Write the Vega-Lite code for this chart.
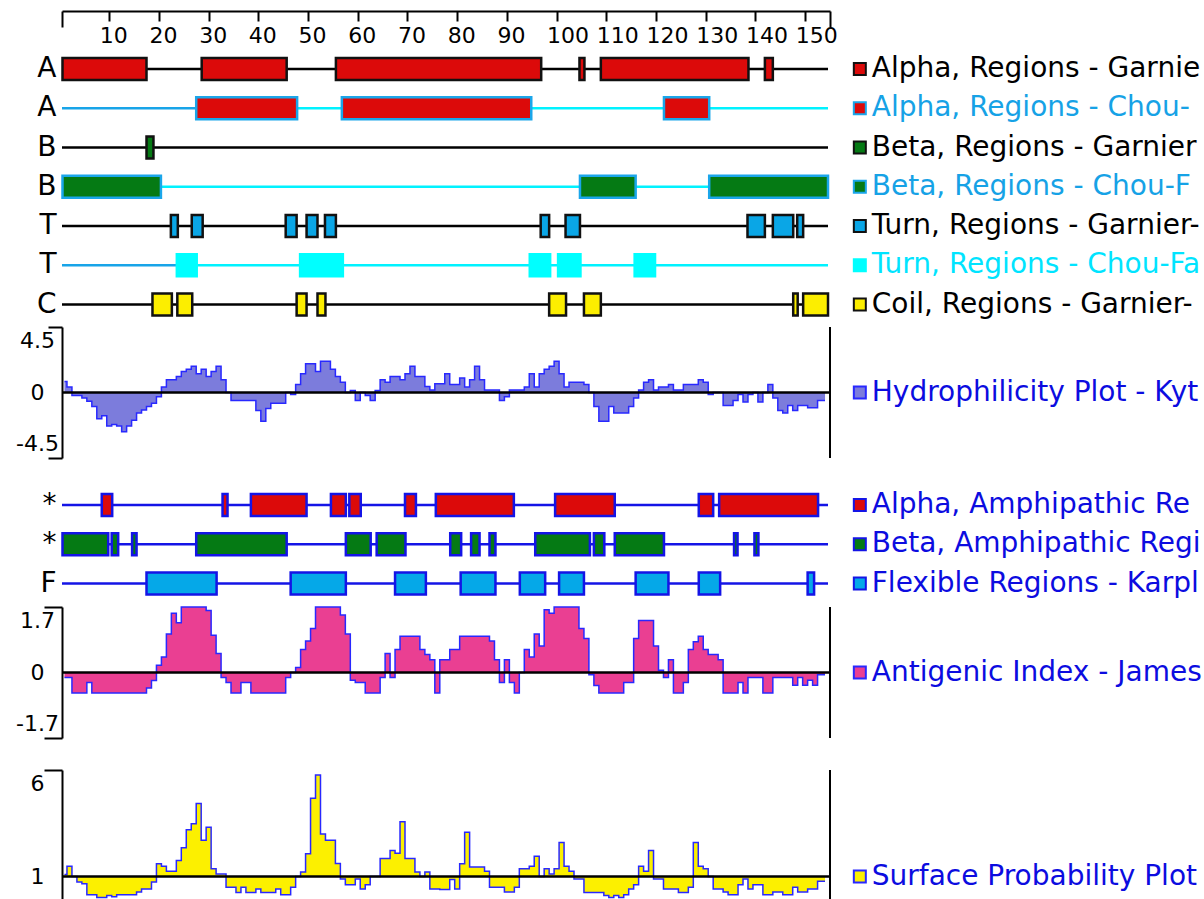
{
"$schema": "https://vega.github.io/schema/vega-lite/v6.json",
"padding": {"left": 15, "top": 0, "right": 0, "bottom": 0},
"autosize": {"type": "pad"},
"background": "white",
"spacing": 0,
"bounds": "flush",
"resolve": {"scale": {"fill": "independent", "stroke": "independent", "color": "independent"}},
"config": {
  "view": {"stroke": null},
  "axis": {"labelFont": "DejaVu Sans", "labelColor": "black", "domainColor": "black", "tickColor": "black", "domainWidth": 2, "tickWidth": 2, "grid": false, "title": null},
  "text": {"font": "DejaVu Sans"}
},
"datasets": {
  "tracks": [
    {"track": "A1", "label": "Alpha, Regions - Garnier-Robson"},
    {"track": "A2", "label": "Alpha, Regions - Chou-Fasman"},
    {"track": "B1", "label": "Beta, Regions - Garnier-Robson"},
    {"track": "B2", "label": "Beta, Regions - Chou-Fasman"},
    {"track": "T1", "label": "Turn, Regions - Garnier-Robson"},
    {"track": "T2", "label": "Turn, Regions - Chou-Fasman"},
    {"track": "C1", "label": "Coil, Regions - Garnier-Robson"}
  ],
  "trackLines": [
    {"track": "A1", "from": 0.5, "to": 154.6, "kind": "gr"},
    {"track": "A2", "from": 0.5, "to": 27.5, "kind": "pre"},
    {"track": "A2", "from": 27.5, "to": 154.6, "kind": "cf"},
    {"track": "B1", "from": 0.5, "to": 154.6, "kind": "gr"},
    {"track": "B2", "from": 0.5, "to": 154.6, "kind": "cf"},
    {"track": "T1", "from": 0.5, "to": 154.6, "kind": "gr"},
    {"track": "T2", "from": 0.5, "to": 23.6, "kind": "pre"},
    {"track": "T2", "from": 23.6, "to": 154.6, "kind": "cf"},
    {"track": "C1", "from": 0.5, "to": 154.6, "kind": "gr"}
  ],
  "trackRegions": [
    {"track": "A1", "start": 0.6, "end": 17.5}, {"track": "A1", "start": 28.6, "end": 45.7}, {"track": "A1", "start": 55.6, "end": 96.9}, {"track": "A1", "start": 104.6, "end": 105.6}, {"track": "A1", "start": 108.9, "end": 138.6}, {"track": "A1", "start": 141.9, "end": 143.5},
    {"track": "A2", "start": 27.5, "end": 47.8}, {"track": "A2", "start": 56.8, "end": 94.9}, {"track": "A2", "start": 121.6, "end": 130.7},
    {"track": "B1", "start": 17.5, "end": 18.9},
    {"track": "B2", "start": 0.6, "end": 20.4}, {"track": "B2", "start": 104.7, "end": 115.9}, {"track": "B2", "start": 130.7, "end": 154.6},
    {"track": "T1", "start": 22.4, "end": 23.8}, {"track": "T1", "start": 26.6, "end": 28.8}, {"track": "T1", "start": 45.5, "end": 47.7}, {"track": "T1", "start": 49.7, "end": 51.9}, {"track": "T1", "start": 53.4, "end": 55.6}, {"track": "T1", "start": 96.8, "end": 98.5}, {"track": "T1", "start": 101.8, "end": 104.7}, {"track": "T1", "start": 138.4, "end": 141.9}, {"track": "T1", "start": 143.5, "end": 147.6}, {"track": "T1", "start": 148.4, "end": 149.6},
    {"track": "T2", "start": 23.6, "end": 27.6}, {"track": "T2", "start": 48.4, "end": 57.0}, {"track": "T2", "start": 94.6, "end": 98.7}, {"track": "T2", "start": 100.3, "end": 104.8}, {"track": "T2", "start": 115.7, "end": 119.8},
    {"track": "C1", "start": 18.7, "end": 22.6}, {"track": "C1", "start": 23.7, "end": 26.7}, {"track": "C1", "start": 47.7, "end": 49.7}, {"track": "C1", "start": 51.9, "end": 53.5}, {"track": "C1", "start": 98.5, "end": 101.9}, {"track": "C1", "start": 105.5, "end": 108.9}, {"track": "C1", "start": 147.6, "end": 148.5}, {"track": "C1", "start": 149.6, "end": 154.6}
  ],
  "amph": [
    {"track": "M1", "label": "Alpha, Amphipathic Regions - Eisenberg"},
    {"track": "M2", "label": "Beta, Amphipathic Regions - Eisenberg"},
    {"track": "F1", "label": "Flexible Regions - Karplus-Schulz"}
  ],
  "amphLines": [
    {"track": "M1", "from": 0.5, "to": 154.6},
    {"track": "M2", "from": 0.5, "to": 154.6},
    {"track": "F1", "from": 0.5, "to": 154.6}
  ],
  "amphRegions": [
    {"track": "M1", "start": 8.5, "end": 10.6}, {"track": "M1", "start": 32.8, "end": 33.8}, {"track": "M1", "start": 38.5, "end": 49.7}, {"track": "M1", "start": 54.6, "end": 57.6}, {"track": "M1", "start": 58.3, "end": 60.6}, {"track": "M1", "start": 69.5, "end": 71.7}, {"track": "M1", "start": 75.7, "end": 91.4}, {"track": "M1", "start": 99.7, "end": 111.7}, {"track": "M1", "start": 128.6, "end": 131.5}, {"track": "M1", "start": 132.7, "end": 152.6},
    {"track": "M2", "start": 0.6, "end": 9.8}, {"track": "M2", "start": 10.5, "end": 11.8}, {"track": "M2", "start": 14.6, "end": 15.5}, {"track": "M2", "start": 27.5, "end": 45.7}, {"track": "M2", "start": 57.6, "end": 62.6}, {"track": "M2", "start": 63.8, "end": 69.6}, {"track": "M2", "start": 78.6, "end": 80.8}, {"track": "M2", "start": 82.8, "end": 84.5}, {"track": "M2", "start": 86.5, "end": 87.7}, {"track": "M2", "start": 95.7, "end": 106.7}, {"track": "M2", "start": 107.5, "end": 109.6}, {"track": "M2", "start": 111.7, "end": 121.6}, {"track": "M2", "start": 135.7, "end": 136.4}, {"track": "M2", "start": 139.8, "end": 140.6},
    {"track": "F1", "start": 17.5, "end": 31.6}, {"track": "F1", "start": 46.5, "end": 57.6}, {"track": "F1", "start": 67.5, "end": 73.7}, {"track": "F1", "start": 80.7, "end": 87.7}, {"track": "F1", "start": 92.6, "end": 97.7}, {"track": "F1", "start": 100.5, "end": 105.5}, {"track": "F1", "start": 115.9, "end": 122.5}, {"track": "F1", "start": 128.6, "end": 132.9}, {"track": "F1", "start": 150.5, "end": 151.8}
  ],
  "profile": [
    {"res":1,"hydro":0.75,"ai":-0.13,"sp":1.1},{"res":2,"hydro":0.37,"ai":-0.13,"sp":1.49},{"res":3,"hydro":-0.2,"ai":-0.53,"sp":1.0},{"res":4,"hydro":-0.2,"ai":-0.53,"sp":0.75},{"res":5,"hydro":-0.37,"ai":-0.53,"sp":0.66},{"res":6,"hydro":-0.6,"ai":-0.26,"sp":0.15},{"res":7,"hydro":-0.96,"ai":-0.53,"sp":0.15},{"res":8,"hydro":-1.8,"ai":-0.53,"sp":0.02},{"res":9,"hydro":-1.6,"ai":-0.53,"sp":0.02},{"res":10,"hydro":-2.3,"ai":-0.53,"sp":0.12},
    {"res":11,"hydro":-2.2,"ai":-0.53,"sp":0.05},{"res":12,"hydro":-2.3,"ai":-0.53,"sp":0.15},{"res":13,"hydro":-2.7,"ai":-0.53,"sp":0.15},{"res":14,"hydro":-2.3,"ai":-0.53,"sp":0.15},{"res":15,"hydro":-1.9,"ai":-0.53,"sp":0.15},{"res":16,"hydro":-1.4,"ai":-0.53,"sp":0.28},{"res":17,"hydro":-1.2,"ai":-0.53,"sp":0.42},{"res":18,"hydro":-0.96,"ai":-0.4,"sp":0.42},{"res":19,"hydro":-0.73,"ai":-0.21,"sp":0.75},{"res":20,"hydro":-0.3,"ai":0.19,"sp":1.6},
    {"res":21,"hydro":0.37,"ai":0.4,"sp":1.49},{"res":22,"hydro":0.87,"ai":1.0,"sp":1.25},{"res":23,"hydro":0.87,"ai":1.54,"sp":1.25},{"res":24,"hydro":1.1,"ai":1.29,"sp":1.75},{"res":25,"hydro":1.44,"ai":1.7,"sp":2.35},{"res":26,"hydro":1.6,"ai":1.7,"sp":3.2},{"res":27,"hydro":1.8,"ai":1.7,"sp":3.48},{"res":28,"hydro":1.28,"ai":1.7,"sp":4.43},{"res":29,"hydro":1.6,"ai":1.7,"sp":2.7},{"res":30,"hydro":1.1,"ai":1.61,"sp":3.32},
    {"res":31,"hydro":1.44,"ai":0.97,"sp":1.37},{"res":32,"hydro":1.8,"ai":0.49,"sp":1.12},{"res":33,"hydro":0.87,"ai":-0.13,"sp":1.12},{"res":34,"hydro":0,"ai":-0.26,"sp":0.5},{"res":35,"hydro":-0.55,"ai":-0.53,"sp":0.5},{"res":36,"hydro":-0.55,"ai":-0.53,"sp":0.26},{"res":37,"hydro":-0.55,"ai":-0.26,"sp":0.5},{"res":38,"hydro":-0.55,"ai":-0.26,"sp":0.26},{"res":39,"hydro":-0.55,"ai":-0.53,"sp":0.26},{"res":40,"hydro":-1.24,"ai":-0.53,"sp":0.42},
    {"res":41,"hydro":-1.97,"ai":-0.53,"sp":0.26},{"res":42,"hydro":-1.1,"ai":-0.53,"sp":0.26},{"res":43,"hydro":-0.73,"ai":-0.53,"sp":0.26},{"res":44,"hydro":-0.73,"ai":-0.53,"sp":0.42},{"res":45,"hydro":-0.73,"ai":-0.53,"sp":0.15},{"res":46,"hydro":0,"ai":-0.13,"sp":0.15},{"res":47,"hydro":-0.14,"ai":0,"sp":0.5},{"res":48,"hydro":0.55,"ai":0.13,"sp":1.0},{"res":49,"hydro":1.28,"ai":0.6,"sp":1.22},{"res":50,"hydro":1.97,"ai":0.82,"sp":2.07},
    {"res":51,"hydro":1.97,"ai":1.14,"sp":4.67},{"res":52,"hydro":1.44,"ai":1.7,"sp":5.77},{"res":53,"hydro":2.15,"ai":1.7,"sp":3.0},{"res":54,"hydro":2.15,"ai":1.7,"sp":2.7},{"res":55,"hydro":1.6,"ai":1.7,"sp":2.7},{"res":56,"hydro":1.1,"ai":1.7,"sp":1.61},{"res":57,"hydro":0.7,"ai":1.49,"sp":0.89},{"res":58,"hydro":0,"ai":1.0,"sp":0.62},{"res":59,"hydro":0.14,"ai":-0.2,"sp":0.62},{"res":60,"hydro":-0.55,"ai":-0.26,"sp":0.89},
    {"res":61,"hydro":0,"ai":-0.26,"sp":0.42},{"res":62,"hydro":-0.2,"ai":-0.53,"sp":0.62},{"res":63,"hydro":-0.55,"ai":-0.53,"sp":1.0},{"res":64,"hydro":0.14,"ai":-0.53,"sp":1.0},{"res":65,"hydro":0.87,"ai":-0.13,"sp":1.85},{"res":66,"hydro":0.7,"ai":0.49,"sp":1.85},{"res":67,"hydro":1.1,"ai":-0.13,"sp":2.22},{"res":68,"hydro":1.1,"ai":0.6,"sp":2.1},{"res":69,"hydro":0.87,"ai":0.94,"sp":3.57},{"res":70,"hydro":1.28,"ai":0.94,"sp":1.85},
    {"res":71,"hydro":1.8,"ai":0.94,"sp":1.85},{"res":72,"hydro":1.1,"ai":0.94,"sp":1.22},{"res":73,"hydro":1.1,"ai":0.6,"sp":1.0},{"res":74,"hydro":0.41,"ai":0.47,"sp":1.22},{"res":75,"hydro":0.18,"ai":0.33,"sp":0.42},{"res":76,"hydro":0.6,"ai":-0.53,"sp":0.42},{"res":77,"hydro":0.6,"ai":0.33,"sp":0.4},{"res":78,"hydro":1.28,"ai":0.33,"sp":0.4},{"res":79,"hydro":0.55,"ai":0.6,"sp":0.86},{"res":80,"hydro":0.55,"ai":0.6,"sp":0.42},
    {"res":81,"hydro":1.0,"ai":0.94,"sp":1.6},{"res":82,"hydro":0.37,"ai":0.94,"sp":3.08},{"res":83,"hydro":0.87,"ai":0.94,"sp":1.45},{"res":84,"hydro":1.8,"ai":0.94,"sp":1.45},{"res":85,"hydro":0.87,"ai":0.94,"sp":1.45},{"res":86,"hydro":0.18,"ai":0.94,"sp":1.25},{"res":87,"hydro":0.18,"ai":0.82,"sp":0.5},{"res":88,"hydro":0.18,"ai":0.33,"sp":0.5},{"res":89,"hydro":-0.55,"ai":-0.26,"sp":0.5},{"res":90,"hydro":-0.3,"ai":0.33,"sp":0.28},
    {"res":91,"hydro":0.18,"ai":-0.26,"sp":0.28},{"res":92,"hydro":0.18,"ai":-0.53,"sp":0.5},{"res":93,"hydro":0.18,"ai":0,"sp":1.37},{"res":94,"hydro":0.37,"ai":0.6,"sp":1.37},{"res":95,"hydro":1.28,"ai":0.4,"sp":1.49},{"res":96,"hydro":0.37,"ai":1.0,"sp":1.96},{"res":97,"hydro":1.28,"ai":0.69,"sp":1.0},{"res":98,"hydro":1.6,"ai":1.63,"sp":1.37},{"res":99,"hydro":1.8,"ai":1.54,"sp":1.12},{"res":100,"hydro":2.15,"ai":1.7,"sp":1.37},
    {"res":101,"hydro":1.28,"ai":1.7,"sp":2.6},{"res":102,"hydro":0.37,"ai":1.7,"sp":1.49},{"res":103,"hydro":0.7,"ai":1.7,"sp":1.25},{"res":104,"hydro":0.7,"ai":1.7,"sp":0.89},{"res":105,"hydro":0.7,"ai":1.14,"sp":0.89},{"res":106,"hydro":0.55,"ai":0.88,"sp":0.26},{"res":107,"hydro":0,"ai":-0.06,"sp":0.26},{"res":108,"hydro":-0.96,"ai":-0.34,"sp":0.26},{"res":109,"hydro":-1.97,"ai":-0.53,"sp":0.26},{"res":110,"hydro":-1.97,"ai":-0.53,"sp":0.12},
    {"res":111,"hydro":-0.96,"ai":-0.53,"sp":0.02},{"res":112,"hydro":-1.4,"ai":-0.53,"sp":0.12},{"res":113,"hydro":-1.4,"ai":-0.53,"sp":0.02},{"res":114,"hydro":-1.4,"ai":-0.26,"sp":0.15},{"res":115,"hydro":-0.96,"ai":-0.26,"sp":0.42},{"res":116,"hydro":-0.37,"ai":0.88,"sp":0.62},{"res":117,"hydro":0.18,"ai":1.35,"sp":1.49},{"res":118,"hydro":0.7,"ai":1.35,"sp":1.25},{"res":119,"hydro":0.87,"ai":1.35,"sp":2.22},{"res":120,"hydro":0.18,"ai":0.69,"sp":0.89},
    {"res":121,"hydro":0.37,"ai":0.06,"sp":0.89},{"res":122,"hydro":0.37,"ai":-0.13,"sp":0.42},{"res":123,"hydro":0.55,"ai":0.33,"sp":0.42},{"res":124,"hydro":0.18,"ai":-0.53,"sp":0.42},{"res":125,"hydro":0.18,"ai":-0.53,"sp":0.26},{"res":126,"hydro":0.55,"ai":-0.26,"sp":0.26},{"res":127,"hydro":0.55,"ai":0.6,"sp":0.5},{"res":128,"hydro":0.55,"ai":0.8,"sp":2.6},{"res":129,"hydro":0.87,"ai":0.94,"sp":1.49},{"res":130,"hydro":0.7,"ai":0.6,"sp":1.37},
    {"res":131,"hydro":-0.14,"ai":0.47,"sp":1.0},{"res":132,"hydro":0,"ai":0.47,"sp":0.42},{"res":133,"hydro":0,"ai":0.33,"sp":0.42},{"res":134,"hydro":-0.9,"ai":-0.53,"sp":0.28},{"res":135,"hydro":-0.9,"ai":-0.53,"sp":0.15},{"res":136,"hydro":-0.55,"ai":-0.53,"sp":0.15},{"res":137,"hydro":-0.14,"ai":-0.26,"sp":0.62},{"res":138,"hydro":-0.65,"ai":-0.53,"sp":0.89},{"res":139,"hydro":-0.14,"ai":-0.13,"sp":0.42},{"res":140,"hydro":0,"ai":-0.13,"sp":0.62},
    {"res":141,"hydro":-0.65,"ai":-0.13,"sp":0.62},{"res":142,"hydro":0,"ai":-0.53,"sp":0.15},{"res":143,"hydro":0.55,"ai":-0.53,"sp":0.15},{"res":144,"hydro":-0.37,"ai":-0.13,"sp":0.28},{"res":145,"hydro":-1.24,"ai":-0.13,"sp":0.28},{"res":146,"hydro":-1.4,"ai":-0.13,"sp":0.15},{"res":147,"hydro":-0.9,"ai":-0.13,"sp":0.15},{"res":148,"hydro":-1.24,"ai":-0.33,"sp":0.5},{"res":149,"hydro":-0.9,"ai":-0.13,"sp":0.28},{"res":150,"hydro":-0.9,"ai":-0.33,"sp":0.28},
    {"res":151,"hydro":-1.05,"ai":-0.2,"sp":0.42},{"res":152,"hydro":-1.05,"ai":-0.33,"sp":0.42},{"res":153,"hydro":-0.55,"ai":-0.06,"sp":0.78},{"res":154,"hydro":-0.55,"ai":-0.06,"sp":0.78}
  ]
},
"vconcat": [
  {
    "width": 768, "height": 10,
    "data": {"values": [{}]},
    "mark": {"type": "text"},
    "encoding": {
      "x": {"datum": 1, "type": "quantitative", "scale": {"domain": [0.5, 155], "nice": false, "zero": false},
        "axis": {"orient": "bottom", "values": [0.5, 10, 20, 30, 40, 50, 60, 70, 80, 90, 100, 110, 120, 130, 140, 150, 155],
          "tickSize": {"condition": {"test": "datum.value < 1 || datum.value > 154", "value": 16}, "value": 10},
          "labelExpr": "datum.value < 1 || datum.value > 154 ? '' : '' + datum.value",
          "labelFontSize": 22, "labelAlign": "left", "labelOffset": -10, "labelPadding": 4, "labelOverlap": false, "labelFlush": false}},
      "text": {"value": ""}
    }
  },
  {
    "width": 768, "height": 316,
    "resolve": {"scale": {"color": "independent"}},
    "layer": [
      {
        "data": {"name": "trackLines"},
        "mark": {"type": "rule", "strokeWidth": 2.5},
        "encoding": {
          "y": {"field": "track", "type": "nominal", "scale": {"domain": ["A1","A2","B1","B2","T1","T2","C1"], "paddingInner": 0, "paddingOuter": 0.5255, "align": 0.933},
            "axis": {"orient": "left", "labelExpr": "substring(datum.value, 0, 1)", "domain": false, "ticks": false, "labelPadding": 6, "labelFontSize": 28, "title": null}},
          "x": {"field": "from", "type": "quantitative", "scale": {"domain": [0.5, 155], "nice": false, "zero": false}, "axis": null},
          "x2": {"field": "to"},
          "color": {"field": "kind", "type": "nominal", "scale": {"domain": ["gr","pre","cf"], "range": ["#000000","#18a4e8","#00f2ff"]}, "legend": null}
        }
      },
      {
        "data": {"name": "trackRegions"},
        "mark": {"type": "bar", "size": 22, "strokeWidth": 2.5, "opacity": 1},
        "encoding": {
          "y": {"field": "track", "type": "nominal"},
          "x": {"field": "start", "type": "quantitative", "axis": null},
          "x2": {"field": "end"},
          "fill": {"field": "track", "type": "nominal", "scale": {"domain": ["A1","A2","B1","B2","T1","T2","C1"], "range": ["#dc0a0a","#dc0a0a","#057a14","#057a14","#0aa6e6","#00ffff","#fcee00"]}, "legend": null},
          "stroke": {"field": "track", "type": "nominal", "scale": {"domain": ["A1","A2","B1","B2","T1","T2","C1"], "range": ["#111111","#1aa6ea","#111111","#1aa6ea","#111111","#00ffff","#111111"]}, "legend": null}
        }
      },
      {
        "data": {"name": "tracks"},
        "mark": {"type": "square", "size": 144, "strokeWidth": 2, "opacity": 1},
        "encoding": {
          "y": {"field": "track", "type": "nominal"},
          "x": {"datum": 161, "type": "quantitative", "axis": null},
          "fill": {"field": "track", "type": "nominal", "legend": null},
          "stroke": {"field": "track", "type": "nominal", "legend": null}
        }
      },
      {
        "data": {"name": "tracks"},
        "mark": {"type": "text", "align": "left", "baseline": "middle", "fontSize": 28, "limit": 332, "ellipsis": "\u200b"},
        "encoding": {
          "y": {"field": "track", "type": "nominal"},
          "x": {"datum": 163.4, "type": "quantitative", "axis": null},
          "text": {"field": "label"},
          "color": {"field": "track", "type": "nominal", "scale": {"domain": ["A1","A2","B1","B2","T1","T2","C1"], "range": ["#000000","#16a2e6","#000000","#16a2e6","#000000","#00e4ff","#000000"]}, "legend": null}
        }
      }
    ]
  },
  {
    "width": 768, "height": 131,
    "layer": [
      {
        "data": {"name": "profile"},
        "mark": {"type": "area", "interpolate": "step", "color": "#7c7cdc", "opacity": 1, "fillOpacity": 1, "line": {"color": "#2828ff", "strokeWidth": 1.5}},
        "encoding": {
          "x": {"field": "res", "type": "quantitative", "scale": {"domain": [0.5, 155], "nice": false, "zero": false}, "axis": null},
          "y": {"field": "hydro", "type": "quantitative", "scale": {"domain": [-4.5, 4.5], "nice": false, "zero": false},
            "axis": {"values": [-4.5, 0, 4.5], "labelExpr": "'' + datum.value", "labelFlush": true, "labelFlushOffset": -3, "tickSize": 14,
              "tickOpacity": {"condition": {"test": "datum.value === 0", "value": 0}, "value": 1},
              "labelAlign": "center", "labelPadding": 11, "labelFontSize": 22, "title": null}},
          "y2": {"datum": 0}
        }
      },
      {"data": {"values": [{}]}, "mark": {"type": "rule", "color": "black", "strokeWidth": 2.5}, "encoding": {"y": {"datum": 0}}},
      {"data": {"values": [{}]}, "mark": {"type": "rule", "color": "black", "strokeWidth": 2}, "encoding": {"x": {"datum": 155, "axis": null}}},
      {"data": {"values": [{}]}, "mark": {"type": "square", "size": 144, "fill": "#7c7cdc", "stroke": "#2828ff", "strokeWidth": 2, "opacity": 1}, "encoding": {"x": {"datum": 161, "axis": null}, "y": {"datum": 0}}},
      {"data": {"values": [{}]}, "mark": {"type": "text", "align": "left", "baseline": "middle", "fontSize": 28, "color": "#0c0ce0", "limit": 332, "ellipsis": "\u200b", "text": "Hydrophilicity Plot - Kyte-Doolittle"}, "encoding": {"x": {"datum": 163.4, "axis": null}, "y": {"datum": 0}}}
    ]
  },
  {
    "width": 768, "height": 149,
    "layer": [
      {
        "data": {"name": "amphLines"},
        "mark": {"type": "rule", "strokeWidth": 2.5, "color": "#1414e6"},
        "encoding": {
          "y": {"field": "track", "type": "nominal", "scale": {"domain": ["M1","M2","F1"], "paddingInner": 0, "paddingOuter": 0.398, "align": 0.877},
            "axis": {"orient": "left", "labelExpr": "datum.value == 'F1' ? 'F' : '*'", "domain": false, "ticks": false, "labelPadding": 6, "labelFontSize": 28, "title": null}},
          "x": {"field": "from", "type": "quantitative", "scale": {"domain": [0.5, 155], "nice": false, "zero": false}, "axis": null},
          "x2": {"field": "to"}
        }
      },
      {
        "data": {"name": "amphRegions"},
        "mark": {"type": "bar", "size": 22, "strokeWidth": 2.5, "stroke": "#1414e6", "opacity": 1},
        "encoding": {
          "y": {"field": "track", "type": "nominal"},
          "x": {"field": "start", "type": "quantitative", "axis": null},
          "x2": {"field": "end"},
          "fill": {"field": "track", "type": "nominal", "scale": {"domain": ["M1","M2","F1"], "range": ["#dc0a0a","#057a14","#05a8e8"]}, "legend": null}
        }
      },
      {
        "data": {"name": "amph"},
        "mark": {"type": "square", "size": 144, "strokeWidth": 2, "stroke": "#1414e6", "opacity": 1},
        "encoding": {
          "y": {"field": "track", "type": "nominal"},
          "x": {"datum": 161, "type": "quantitative", "axis": null},
          "fill": {"field": "track", "type": "nominal", "legend": null}
        }
      },
      {
        "data": {"name": "amph"},
        "mark": {"type": "text", "align": "left", "baseline": "middle", "fontSize": 28, "color": "#0c0ce0", "limit": 332, "ellipsis": "\u200b"},
        "encoding": {
          "y": {"field": "track", "type": "nominal"},
          "x": {"datum": 163.4, "type": "quantitative", "axis": null},
          "text": {"field": "label"}
        }
      }
    ]
  },
  {
    "width": 768, "height": 131,
    "layer": [
      {
        "data": {"name": "profile"},
        "mark": {"type": "area", "interpolate": "step", "color": "#ea3f92", "opacity": 1, "fillOpacity": 1, "line": {"color": "#2828ff", "strokeWidth": 1.5}},
        "encoding": {
          "x": {"field": "res", "type": "quantitative", "scale": {"domain": [0.5, 155], "nice": false, "zero": false}, "axis": null},
          "y": {"field": "ai", "type": "quantitative", "scale": {"domain": [-1.7, 1.7], "nice": false, "zero": false},
            "axis": {"values": [-1.7, 0, 1.7], "labelExpr": "'' + datum.value", "labelFlush": true, "labelFlushOffset": -3, "tickSize": 18,
              "tickOpacity": {"condition": {"test": "datum.value === 0", "value": 0}, "value": 1},
              "labelAlign": "center", "labelPadding": 7, "labelFontSize": 22, "title": null}},
          "y2": {"datum": 0}
        }
      },
      {"data": {"values": [{}]}, "mark": {"type": "rule", "color": "black", "strokeWidth": 2.5}, "encoding": {"y": {"datum": 0}}},
      {"data": {"values": [{}]}, "mark": {"type": "rule", "color": "black", "strokeWidth": 2}, "encoding": {"x": {"datum": 155, "axis": null}}},
      {"data": {"values": [{}]}, "mark": {"type": "square", "size": 144, "fill": "#ea3f92", "stroke": "#2828ff", "strokeWidth": 2, "opacity": 1}, "encoding": {"x": {"datum": 161, "axis": null}, "y": {"datum": 0}}},
      {"data": {"values": [{}]}, "mark": {"type": "text", "align": "left", "baseline": "middle", "fontSize": 28, "color": "#0c0ce0", "limit": 332, "ellipsis": "\u200b", "text": "Antigenic Index - Jameson-Wolf"}, "encoding": {"x": {"datum": 163.4, "axis": null}, "y": {"datum": 0}}}
    ]
  },
  {
    "width": 768, "height": 32,
    "data": {"values": [{}]},
    "mark": {"type": "text"},
    "encoding": {"text": {"value": ""}}
  },
  {
    "width": 768, "height": 129,
    "layer": [
      {
        "data": {"name": "profile"},
        "mark": {"type": "area", "interpolate": "step", "color": "#fcf000", "opacity": 1, "fillOpacity": 1, "line": {"color": "#2828ff", "strokeWidth": 1.5}},
        "encoding": {
          "x": {"field": "res", "type": "quantitative", "scale": {"domain": [0.5, 155], "nice": false, "zero": false}, "axis": null},
          "y": {"field": "sp", "type": "quantitative", "scale": {"domain": [-0.05, 6], "nice": false, "zero": false},
            "axis": {"values": [1, 6], "labelExpr": "'' + datum.value", "labelFlush": true, "labelFlushOffset": -3, "tickSize": 18,
              "tickOpacity": {"condition": {"test": "datum.value === 1", "value": 0}, "value": 1},
              "labelAlign": "center", "labelPadding": 7, "labelFontSize": 22, "title": null}},
          "y2": {"datum": 1}
        }
      },
      {"data": {"values": [{}]}, "mark": {"type": "rule", "color": "black", "strokeWidth": 2.5}, "encoding": {"y": {"datum": 1}}},
      {"data": {"values": [{}]}, "mark": {"type": "rule", "color": "black", "strokeWidth": 2}, "encoding": {"x": {"datum": 155, "axis": null}}},
      {"data": {"values": [{}]}, "mark": {"type": "square", "size": 144, "fill": "#fcf000", "stroke": "#2828ff", "strokeWidth": 2, "opacity": 1}, "encoding": {"x": {"datum": 161, "axis": null}, "y": {"datum": 1}}},
      {"data": {"values": [{}]}, "mark": {"type": "text", "align": "left", "baseline": "middle", "fontSize": 28, "color": "#0c0ce0", "limit": 332, "ellipsis": "\u200b", "text": "Surface Probability Plot - Emini"}, "encoding": {"x": {"datum": 163.4, "axis": null}, "y": {"datum": 1}}}
    ]
  }
]
}
